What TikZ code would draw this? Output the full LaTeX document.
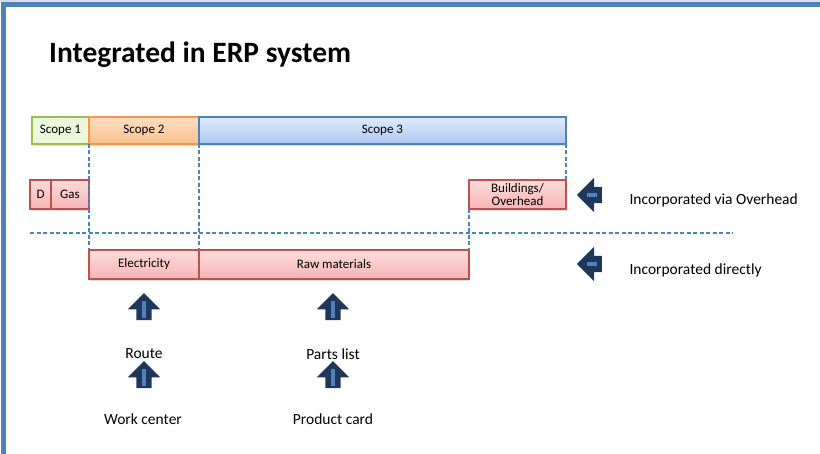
\documentclass[tikz,border=0pt]{standalone}
\usepackage{fontspec}
\setmainfont{Carlito}
\usepackage{tikz}
\usetikzlibrary{positioning, shapes.arrows, shadows, calc}
\definecolor{slideblue}{RGB}{79,129,189}
\definecolor{slidegray}{RGB}{215,222,232}
\definecolor{scopegreen}{RGB}{155,187,89}
\definecolor{lightgreen}{RGB}{235,246,218}
\definecolor{scopeorange}{RGB}{247,150,70}
\definecolor{lightorange}{RGB}{253,222,192}
\definecolor{midorange}{RGB}{251,194,143}
\definecolor{lightblue}{RGB}{224,235,251}
\definecolor{midblue}{RGB}{172,199,240}
\definecolor{costred}{RGB}{192,80,77}
\definecolor{lightred}{RGB}{253,220,220}
\definecolor{midred}{RGB}{246,180,180}
\definecolor{arrownavy}{RGB}{30,55,90}

\begin{document}
\begin{tikzpicture}[x=1pt, y=-1pt,
  box/.style={draw, line width=1.2pt, minimum height=29pt, inner sep=0pt, outer sep=0pt, align=center,
    font=\fontsize{13}{13}\selectfont, drop shadow={shadow xshift=1pt, shadow yshift=-2pt, opacity=0.25}},
  scopebox/.style={box, minimum height=27pt},
  costbox/.style={box, draw=costred, top color=lightred, bottom color=midred},
  guide/.style={slideblue, line width=1.2pt, dash pattern=on 4pt off 2.5pt},
  blockarrow/.style={single arrow, draw=none, fill=arrownavy, minimum height=27pt, single arrow head extend=8.5pt},
  uparrow/.style={blockarrow, shape border rotate=90, inner xsep=7.5pt, inner ysep=0pt},
  leftarrow/.style={blockarrow, shape border rotate=180, minimum height=25pt, inner xsep=0pt, inner ysep=8pt, single arrow head extend=9pt},
  innerbar/.style={slideblue, line width=4.5pt},
  label/.style={font=\fontsize{15.5}{16}\selectfont}]
  \useasboundingbox (0,0) rectangle (820,454);
  % slide frame
  \draw[slidegray, line width=2pt] (0,1) -- (820,1);
  \draw[slideblue, line width=5pt] (3.5,454) -- (3.5,5) -- (820,5);
  \node[anchor=base west, inner sep=0pt, font=\fontsize{29.5}{31}\selectfont\bfseries] (title) at (49,63) {Integrated in ERP system};

  % scopes
  \node[scopebox, draw=scopegreen, fill=lightgreen, minimum width=57pt] (scope1) at (60.5,130.5) {Scope 1};
  \node[scopebox, draw=scopeorange, top color=lightorange, bottom color=midorange, minimum width=110pt, right=0pt of scope1] (scope2) {Scope 2};
  \node[scopebox, draw=slideblue, top color=lightblue, bottom color=midblue, minimum width=367pt, right=0pt of scope2] (scope3) {Scope 3};

  % cost items
  \node[costbox, minimum width=21pt] (diesel) at (40.5,194.5) {D};
  \node[costbox, minimum width=38pt, right=0pt of diesel] (gas) {Gas};
  \node[costbox, minimum width=97pt] (overhead) at (517.5,194.5) {Buildings/\\Overhead};
  \node[costbox, minimum width=110pt] (elec) at (144,264.5) {Electricity};
  \node[costbox, minimum width=270pt, right=0pt of elec] (raw) {Raw materials};

  % guide lines
  \coordinate (divL) at (30,233);
  \coordinate (divR) at (733,233);
  \draw[guide] (divL) -- (divR);
  \draw[guide] (scope1.south east) -- (elec.north west);
  \draw[guide] (scope2.south east) -- (raw.north west);
  \draw[guide] (scope3.south east) -- (overhead.north east);
  \draw[guide] (overhead.south west) -- (raw.north east);

  % legend
  \node[leftarrow] (legarr1) at (593.5,195) {};
  \node[leftarrow] (legarr2) at (593.5,264) {};
  \draw[innerbar] ($(legarr1.tail)!0.2!(legarr1.tip)$) -- ($(legarr1.tail)!0.58!(legarr1.tip)$);
  \draw[innerbar] ($(legarr2.tail)!0.2!(legarr2.tip)$) -- ($(legarr2.tail)!0.58!(legarr2.tip)$);
  \node[label, anchor=west] (legtext1) at (626,200) {Incorporated via Overhead};
  \node[label, anchor=west] (legtext2) at (626,270) {Incorporated directly};

  % sources
  \node[uparrow] (uparr1) at (144,310.5) {};
  \node[uparrow] (uparr2) at (333,310.5) {};
  \node[uparrow] (uparr3) at (144,378.5) {};
  \node[uparrow] (uparr4) at (333,378.5) {};
  \foreach \a in {uparr1, uparr2, uparr3, uparr4}
    \draw[innerbar] ($(\a.tail)!0.1!(\a.tip)$) -- ($(\a.tail)!0.72!(\a.tip)$);
  \node[label] (route) at (144,354) {Route};
  \node[label] (parts) at (333,354) {Parts list};
  \node[label] (workcenter) at (143,419) {Work center};
  \node[label] (productcard) at (333,419) {Product card};
\end{tikzpicture}
\end{document}
